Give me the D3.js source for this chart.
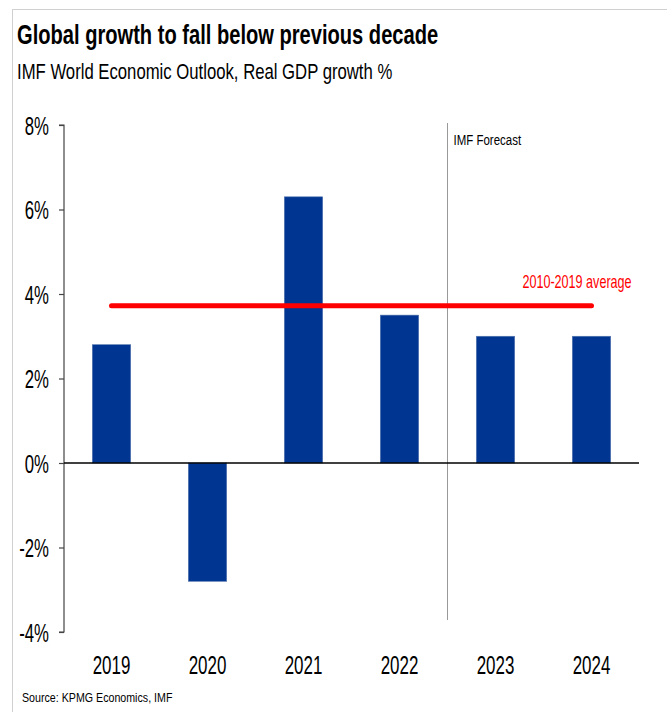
<!DOCTYPE html>
<html>
<head>
<meta charset="utf-8">
<script src="https://cdn.jsdelivr.net/npm/d3@7"></script>
<style>
  body { margin: 0; background: #fff; }
  svg text { font-family: "Liberation Sans Narrow", "Arial Narrow", "Liberation Sans", Arial, sans-serif; }
</style>
</head>
<body>
<svg id="chart" width="667" height="712"></svg>
<script>
// data
const years = ["2019", "2020", "2021", "2022", "2023", "2024"];
const growth = [2.8, -2.8, 6.3, 3.5, 3.0, 3.0];
const yTicks = [-4, -2, 0, 2, 4, 6, 8];
const avgValue = 3.72;
const avgLabel = "2010-2019 average";
const forecastStart = "2023";

const svg = d3.select("#chart");

// squeeze text horizontally around its anchor point (narrow font look)
function condense(sel, f) {
  sel.each(function () {
    const x = +(this.getAttribute("x") || 0);
    d3.select(this)
      .attr("transform", "matrix(" + f + ",0,0,1," + (x * (1 - f)) + ",0)");
  });
}

// frame lines
svg.append("line")
  .attr("x1", 13).attr("x2", 667).attr("y1", 9.5).attr("y2", 9.5)
  .style("stroke", "#d0d0d0").style("stroke-width", 1);
svg.append("line")
  .attr("x1", 12.5).attr("x2", 12.5).attr("y1", 9).attr("y2", 712)
  .style("stroke", "#d0d0d0").style("stroke-width", 1);

// titles
svg.append("text")
  .attr("x", 17).attr("y", 44)
  .style("font-size", "27px").style("font-weight", "bold").style("fill", "#000")
  .text("Global growth to fall below previous decade")
  .call(condense, 0.745);
svg.append("text")
  .attr("x", 17).attr("y", 79)
  .style("font-size", "22px").style("fill", "#000")
  .text("IMF World Economic Outlook, Real GDP growth %")
  .call(condense, 0.76);

// scales
const xScale = d3.scaleBand()
  .domain(years)
  .range([63.5, 639.5])
  .paddingInner(0.6)
  .paddingOuter(0.3);

const yScale = d3.scaleLinear()
  .domain([-4, 8])
  .range([632, 125]);

// forecast divider
const divX = xScale(forecastStart) - xScale.step() * xScale.paddingInner() / 2;
svg.append("line")
  .attr("x1", divX).attr("x2", divX)
  .attr("y1", 123).attr("y2", 620)
  .style("stroke", "#999").style("stroke-width", 1);
svg.append("text")
  .attr("x", divX + 6).attr("y", 145)
  .style("font-size", "14px").style("fill", "#000")
  .text("IMF Forecast")
  .call(condense, 0.82);

// bars
svg.selectAll(".bar")
  .data(growth)
  .enter()
  .append("rect")
  .attr("class", "bar")
  .attr("x", (d, i) => xScale(years[i]))
  .attr("y", d => yScale(Math.max(0, d)))
  .attr("width", xScale.bandwidth())
  .attr("height", d => Math.abs(yScale(d) - yScale(0)))
  .style("fill", "#003591")
  .style("stroke", "#5577b0")
  .style("stroke-width", 0.6);

// y axis
const yAxis = d3.axisLeft(yScale)
  .tickValues(yTicks)
  .tickSize(5)
  .tickPadding(10)
  .tickFormat(d => d + "%");

const yAxisLine = svg.append("g")
  .attr("class", "y-axis")
  .attr("transform", "translate(64,0)")
  .call(yAxis);

yAxisLine.select(".domain")
  .attr("d", "M-5," + yScale(8) + "H0V" + yScale(-4) + "H-5")
  .style("stroke", "#444")
  .style("stroke-width", 1.2);
yAxisLine.selectAll("line")
  .style("stroke", "#444")
  .style("stroke-width", 1.2);
yAxisLine.selectAll("text")
  .style("font-size", "25px")
  .style("fill", "#000")
  .attr("dy", "0.36em")
  .call(condense, 0.67);

// zero line
svg.append("line")
  .attr("x1", 64).attr("x2", 639)
  .attr("y1", yScale(0)).attr("y2", yScale(0))
  .style("stroke", "#000").style("stroke-width", 1.5);

// x labels
svg.selectAll(".year-label")
  .data(years)
  .enter()
  .append("text")
  .attr("class", "year-label")
  .attr("x", d => xScale(d) + xScale.bandwidth() / 2)
  .attr("y", 674)
  .style("text-anchor", "middle")
  .style("font-size", "25.5px")
  .style("fill", "#000")
  .text(d => d)
  .call(condense, 0.665);

// average line
const avgX1 = xScale(years[0]) + xScale.bandwidth() / 2;
const avgX2 = xScale(years[years.length - 1]) + xScale.bandwidth() / 2;
svg.append("line")
  .attr("x1", avgX1).attr("x2", avgX2)
  .attr("y1", yScale(avgValue)).attr("y2", yScale(avgValue))
  .style("stroke", "#ff0000")
  .style("stroke-width", 5)
  .style("stroke-linecap", "round");
svg.append("text")
  .attr("x", 577).attr("y", 288)
  .style("text-anchor", "middle")
  .style("font-size", "17.5px")
  .style("fill", "#ff0000")
  .text(avgLabel)
  .call(condense, 0.72);

// source
svg.append("text")
  .attr("x", 22).attr("y", 702)
  .style("font-size", "13.5px")
  .style("fill", "#000")
  .text("Source: KPMG Economics, IMF")
  .call(condense, 0.79);
</script>
</body>
</html>
